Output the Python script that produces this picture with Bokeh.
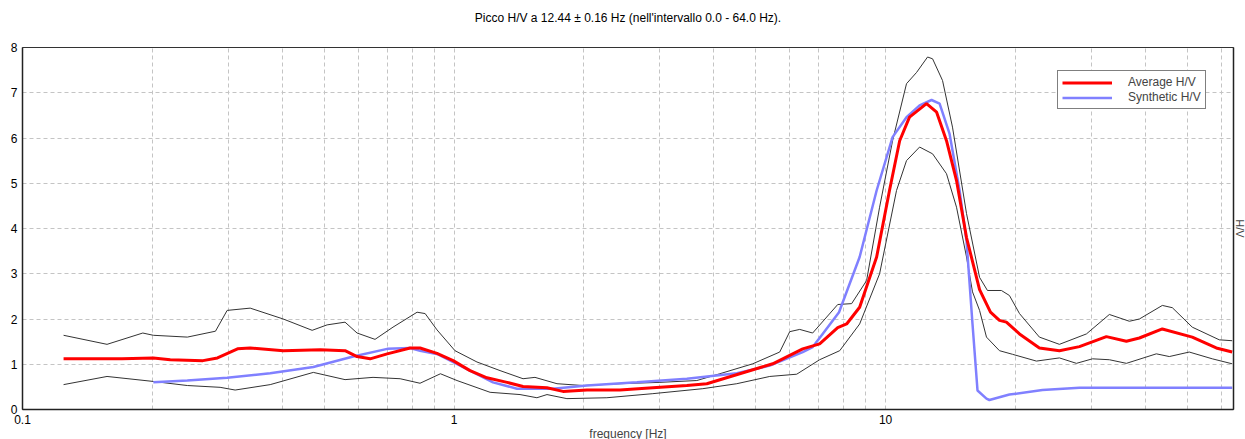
from bokeh.plotting import figure
from bokeh.models import (FixedTicker, LinearAxis, Legend, LegendItem, Range1d,
                          CustomJSTickFormatter, Title)
from bokeh.embed import file_html
from bokeh.resources import INLINE

TITLE = "Picco H/V a 12.44 \u00b1 0.16 Hz (nell'intervallo 0.0 - 64.0 Hz)."

# ---- data (frequency in Hz, H/V amplitude) ----
upper_f = [0.1245, 0.157, 0.190, 0.201, 0.241, 0.280, 0.298, 0.337, 0.402, 0.469,
           0.508, 0.559, 0.596, 0.656, 0.722, 0.821, 0.857, 0.913, 1.005, 1.13,
           1.278, 1.445, 1.54, 1.732, 1.989, 2.423, 3.0, 3.652, 4.128, 4.922,
           5.684, 5.996, 6.324, 6.776, 7.746, 8.343, 9.036, 9.685, 10.38, 11.18,
           11.80, 12.51, 12.85, 13.55, 14.29, 15.40, 16.51, 17.22, 18.55, 19.36,
           20.43, 22.72, 25.28, 29.20, 33.00, 36.72, 38.73, 43.78, 46.18, 51.36,
           59.32, 63.56]
upper_v = [1.64, 1.44, 1.69, 1.64, 1.60, 1.73, 2.19, 2.24, 2.00, 1.75,
           1.87, 1.93, 1.69, 1.55, 1.82, 2.15, 2.12, 1.76, 1.30, 1.05,
           0.86, 0.68, 0.71, 0.57, 0.53, 0.57, 0.60, 0.64, 0.79, 1.01,
           1.27, 1.72, 1.77, 1.69, 2.32, 2.34, 2.85, 4.47, 5.94, 7.20,
           7.45, 7.79, 7.75, 7.27, 6.24, 4.33, 2.92, 2.63, 2.63, 2.52,
           2.12, 1.60, 1.44, 1.67, 2.10, 1.95, 2.00, 2.30, 2.25, 1.82,
           1.54, 1.52]

avg_f = [0.1245, 0.17, 0.201, 0.220, 0.262, 0.283, 0.315, 0.337, 0.402, 0.490,
         0.559, 0.596, 0.639, 0.700, 0.791, 0.834, 0.913, 0.995, 1.089, 1.192,
         1.327, 1.445, 1.642, 1.788, 2.032, 2.423, 2.888, 3.463, 3.852, 4.592,
         5.476, 6.426, 7.034, 7.746, 8.123, 8.707, 9.533, 10.21, 10.78, 11.36,
         12.44, 13.13, 13.84, 14.60, 15.40, 16.51, 17.5, 18.36, 19.05, 20.43,
         22.72, 25.28, 28.13, 32.48, 36.14, 38.73, 43.78, 51.36, 58.38, 63.56]
avg_v = [1.12, 1.12, 1.14, 1.10, 1.08, 1.14, 1.34, 1.36, 1.30, 1.32,
         1.30, 1.17, 1.12, 1.23, 1.36, 1.36, 1.24, 1.08, 0.86, 0.70,
         0.60, 0.51, 0.48, 0.40, 0.43, 0.43, 0.48, 0.53, 0.57, 0.79,
         1.01, 1.34, 1.45, 1.81, 1.89, 2.26, 3.37, 4.84, 5.94, 6.46,
         6.76, 6.57, 5.94, 5.06, 3.80, 2.65, 2.15, 1.97, 1.93, 1.67,
         1.36, 1.30, 1.39, 1.61, 1.51, 1.58, 1.78, 1.60, 1.36, 1.27]

lower_f = [0.1245, 0.157, 0.201, 0.241, 0.287, 0.311, 0.375, 0.472, 0.559, 0.649,
           0.750, 0.834, 0.93, 1.016, 1.212, 1.422, 1.556, 1.642, 1.826, 2.260,
           2.888, 3.771, 4.520, 5.389, 6.223, 7.034, 7.829, 8.707, 9.685, 10.60,
           11.18, 11.99, 12.85, 13.84, 14.60, 15.40, 15.90, 16.51, 17.13, 18.36,
           19.68, 22.36, 25.28, 27.68, 30.15, 33.00, 36.14, 42.40, 45.44, 50.54,
           57.15, 63.56]
lower_v = [0.55, 0.73, 0.62, 0.53, 0.49, 0.43, 0.55, 0.82, 0.66, 0.71,
           0.68, 0.58, 0.79, 0.64, 0.38, 0.33, 0.26, 0.33, 0.24, 0.26,
           0.35, 0.46, 0.57, 0.73, 0.78, 1.10, 1.30, 1.89, 3.00, 4.84,
           5.50, 5.80, 5.65, 5.21, 4.47, 3.37, 2.60, 2.19, 1.60, 1.30,
           1.22, 1.07, 1.14, 1.02, 1.12, 1.10, 1.02, 1.23, 1.17, 1.27,
           1.12, 1.01]

syn_f = [0.201, 0.241, 0.298, 0.375, 0.472, 0.584, 0.700, 0.791, 0.834, 0.918,
         1.089, 1.231, 1.399, 1.695, 2.032, 2.653, 3.463, 4.520, 5.389, 6.426,
         6.776, 7.147, 7.8, 8.707, 9.533, 10.38, 11.18, 11.99, 12.78, 13.34,
         14.07, 14.84, 15.40, 15.90, 16.33, 17.13, 17.40, 19.36, 23.09, 28.13,
         63.56]
syn_v = [0.60, 0.64, 0.70, 0.80, 0.94, 1.17, 1.34, 1.36, 1.30, 1.22,
         0.86, 0.60, 0.46, 0.46, 0.53, 0.60, 0.68, 0.80, 0.97, 1.27,
         1.38, 1.67, 2.15, 3.37, 4.84, 6.02, 6.46, 6.72, 6.84, 6.76,
         6.09, 4.84, 3.73, 1.89, 0.42, 0.24, 0.21, 0.33, 0.43, 0.48,
         0.48]

x_major = [0.1, 1, 10]
x_minor = [0.2, 0.3, 0.4, 0.5, 0.6, 0.7, 0.8, 0.9,
           2, 3, 4, 5, 6, 7, 8, 9, 20, 30, 40, 50, 60]
y_ticks = [0, 1, 2, 3, 4, 5, 6, 7, 8]

FONT = "Liberation Sans"

p = figure(x_axis_type="log", x_range=Range1d(0.1, 64), y_range=Range1d(0, 8),
           frame_width=1211, frame_height=362,
           min_border_left=22, min_border_right=12, min_border_top=47, min_border_bottom=30,
           output_backend="svg", toolbar_location=None, title=TITLE,
           background_fill_color="white", border_fill_color="white",
           outline_line_color="#333333", outline_line_width=1)

p.title.align = "center"
p.title.text_font = FONT
p.title.text_font_size = "12px"
p.title.text_font_style = "normal"
p.title.text_color = "black"
p.title.standoff = 0

# empty spacer between the title and the plot frame
p.add_layout(Title(text=" ", text_font_size="1px", standoff=20), "above")

# axes
p.xaxis.ticker = FixedTicker(ticks=x_major, minor_ticks=x_minor)
p.xaxis.formatter = CustomJSTickFormatter(code="return String(tick);")
p.yaxis.ticker = FixedTicker(ticks=y_ticks)
for ax in (p.xaxis[0], p.yaxis[0]):
    ax.major_tick_out = 0
    ax.major_tick_in = 0
    ax.minor_tick_out = 0
    ax.minor_tick_in = 0
    ax.axis_line_color = "#222222"
    ax.axis_line_width = 1.5
    ax.major_label_text_font = FONT
    ax.major_label_text_font_size = "12px"
    ax.major_label_text_color = "black"
p.xaxis.major_label_standoff = 5
p.yaxis.major_label_standoff = 5
p.xaxis.axis_label = "frequency [Hz]"
p.xaxis.axis_label_text_font = FONT
p.xaxis.axis_label_text_font_size = "12px"
p.xaxis.axis_label_text_font_style = "normal"
p.xaxis.axis_label_standoff = 0

right = LinearAxis(ticker=FixedTicker(ticks=[]), axis_label="H/V",
                   axis_label_text_font=FONT, axis_label_text_font_size="11px",
                   axis_label_text_font_style="normal", axis_label_standoff=0,
                   major_tick_out=0, major_tick_in=0, minor_tick_out=0, minor_tick_in=0,
                   major_label_standoff=0, axis_line_color="#222222", axis_line_width=1.5)
p.add_layout(right, "right")

# grid
p.xgrid.grid_line_color = "#c4c4c4"
p.xgrid.grid_line_dash = "4 3"
p.xgrid.minor_grid_line_color = "#c4c4c4"
p.xgrid.minor_grid_line_dash = "4 3"
p.ygrid.grid_line_color = "#c4c4c4"
p.ygrid.grid_line_dash = "4 3"

# curves
p.line(upper_f, upper_v, line_color="#333333", line_width=1)
p.line(lower_f, lower_v, line_color="#333333", line_width=1)
r_syn = p.line(syn_f, syn_v, line_color="#8080ff", line_width=2.5)
r_avg = p.line(avg_f, avg_v, line_color="#ff0000", line_width=3)

legend = Legend(items=[LegendItem(label="Average H/V", renderers=[r_avg]),
                       LegendItem(label="Synthetic H/V", renderers=[r_syn])],
                location=(1035, 300), padding=4, spacing=1, margin=0,
                glyph_width=50, glyph_height=13, label_height=13, label_standoff=16,
                label_text_font=FONT, label_text_font_size="12px",
                border_line_color="black", border_line_width=1,
                background_fill_color="white", background_fill_alpha=1)
p.add_layout(legend, "center")

open("out.html", "w").write(file_html(p, INLINE))
